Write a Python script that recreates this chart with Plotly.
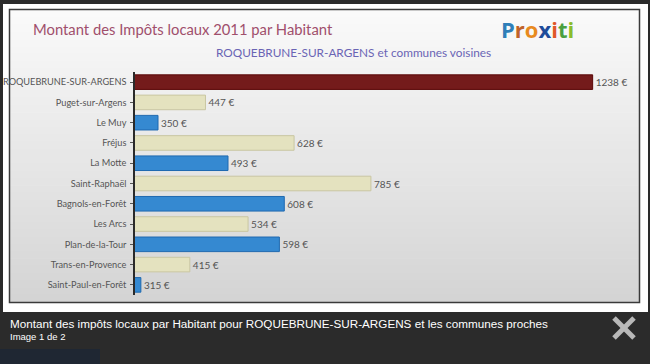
import plotly.graph_objects as go

communes = ["ROQUEBRUNE-SUR-ARGENS", "Puget-sur-Argens", "Le Muy", "Fréjus", "La Motte",
            "Saint-Raphaël", "Bagnols-en-Forêt", "Les Arcs", "Plan-de-la-Tour",
            "Trans-en-Provence", "Saint-Paul-en-Forêt"]
impots = [1238, 447, 350, 628, 493, 785, 608, 534, 598, 415, 315]
value_labels = [f"{v} €" for v in impots]

title_text = "Montant des Impôts locaux 2011 par Habitant"
subtitle_text = "ROQUEBRUNE-SUR-ARGENS et communes voisines"
caption_text = "Montant des impôts locaux par Habitant pour ROQUEBRUNE-SUR-ARGENS et les communes proches"
caption_sub = "Image 1 de 2"

W, H = 650, 364
ML, MR, MT, MB = 135, 27, 72, 69
PW, PH = W - ML - MR, H - MT - MB


def px(x):
    return (x - ML) / PW


def py(y):
    return 1 - (y - MT) / PH


colors = []
edge = []
for i in range(len(communes)):
    if i == 0:
        colors.append("#741b1b")
        edge.append("#5a0808")
    elif i % 2 == 1:
        colors.append("#e4e2bf")
        edge.append("#c9c6a2")
    else:
        colors.append("#3589d1")
        edge.append("#1f69b0")

fig = go.Figure()
fig.add_trace(go.Bar(
    y=communes, x=impots, orientation="h",
    marker=dict(color=colors, line=dict(color=edge, width=1)),
    width=0.72,
    text=value_labels, textposition="outside", cliponaxis=False,
    textfont=dict(family="Lato", size=10, color="#555555"),
    hoverinfo="skip",
))

shapes = []
# white frame
shapes.append(dict(type="rect", xref="paper", yref="paper", layer="below",
                   x0=px(3), x1=px(648), y0=py(4), y1=py(312),
                   fillcolor="#ffffff", line=dict(width=0)))
# gradient panel
top, bot = 10, 302
n = 40
c0, c1 = 250, 212
for k in range(n):
    y0 = top + (bot - top) * k / n
    y1 = top + (bot - top) * (k + 1) / n + 0.6
    c = round(c0 + (c1 - c0) * (k + 0.5) / n)
    shapes.append(dict(type="rect", xref="paper", yref="paper", layer="below",
                       x0=px(10), x1=px(639), y0=py(y0), y1=py(min(y1, bot)),
                       fillcolor=f"rgb({c},{c},{c})", line=dict(width=0)))
shapes.append(dict(type="rect", xref="paper", yref="paper", layer="below",
                   x0=px(9.5), x1=px(639.5), y0=py(9.5), y1=py(302.5),
                   fillcolor="rgba(0,0,0,0)", line=dict(color="#3a3a3a", width=1.5)))
# close button X
for (a, b, c, d) in [(614, 318, 634, 338), (614, 338, 634, 318)]:
    shapes.append(dict(type="line", xref="paper", yref="paper",
                       x0=px(a), y0=py(b), x1=px(c), y1=py(d),
                       line=dict(color="#b8b8b8", width=5)))
# faint background hint
shapes.append(dict(type="rect", xref="paper", yref="paper", layer="below",
                   x0=px(0), x1=px(100), y0=py(349), y1=py(364),
                   fillcolor="#1f2733", line=dict(width=0)))

ann = []
ann.append(dict(text=title_text, xref="paper", yref="paper", x=px(31), y=py(29),
                xanchor="left", yanchor="middle", showarrow=False,
                font=dict(family="Lato", size=14.8, color="#a04f6c")))
ann.append(dict(text=subtitle_text, xref="paper", yref="paper", x=px(353), y=py(53),
                xanchor="center", yanchor="middle", showarrow=False,
                font=dict(family="Lato", size=11.8, color="#6a64b4")))
logo = ("<span style='color:#2f7fb8'>P</span><span style='color:#c0622a'>r</span>"
        "<span style='color:#e88a1f'>o</span><span style='color:#1e4c9a'>x</span>"
        "<span style='color:#e0582a'>i</span><span style='color:#4aa040'>t</span>"
        "<span style='color:#8cbc2c'>i</span>")
ann.append(dict(text="<b>" + logo + "</b>", xref="paper", yref="paper", x=px(537), y=py(29),
                xanchor="center", yanchor="middle", showarrow=False,
                font=dict(family="Open Sans", size=22)))
ann.append(dict(text=caption_text, xref="paper", yref="paper", x=px(8), y=py(323),
                xanchor="left", yanchor="middle", showarrow=False,
                font=dict(family="Liberation Sans", size=11.7, color="#ffffff")))
ann.append(dict(text=caption_sub, xref="paper", yref="paper", x=px(8), y=py(336),
                xanchor="left", yanchor="middle", showarrow=False,
                font=dict(family="Liberation Sans", size=9.5, color="#ffffff")))

fig.update_layout(
    width=W, height=H,
    margin=dict(l=ML, r=MR, t=MT, b=MB, pad=0, autoexpand=False),
    paper_bgcolor="#2b2b2b", plot_bgcolor="rgba(0,0,0,0)",
    showlegend=False, shapes=shapes, annotations=ann, bargap=0.28,
    xaxis=dict(range=[303, 1300], showgrid=False, zeroline=False, showticklabels=False,
               ticks="", showline=False, fixedrange=True, automargin=False),
    yaxis=dict(autorange="reversed", showgrid=False, zeroline=False, showline=True,
               linecolor="#2a2a2a", linewidth=1.5, ticks="outside", ticklen=3,
               tickcolor="#555555", ticklabelstandoff=2, automargin=False,
               tickfont=dict(family="Lato", size=9.2, color="#555555"), fixedrange=True),
)

fig.write_html("out.html", config={"displayModeBar": False},
               post_script="document.body.style.margin='0';document.body.style.overflow='hidden';document.body.style.background='#2b2b2b';")
